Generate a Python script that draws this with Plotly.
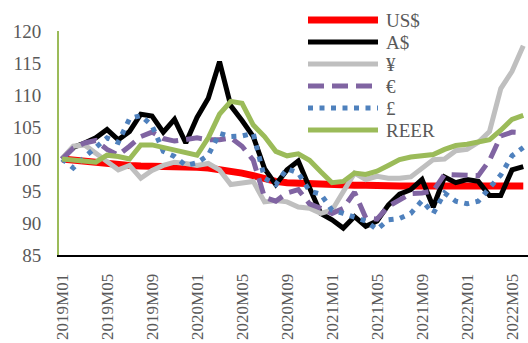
import plotly.graph_objects as go

months = [
    "2019M01", "2019M02", "2019M03", "2019M04", "2019M05", "2019M06", "2019M07", "2019M08",
    "2019M09", "2019M10", "2019M11", "2019M12",
    "2020M01", "2020M02", "2020M03", "2020M04", "2020M05", "2020M06", "2020M07", "2020M08",
    "2020M09", "2020M10", "2020M11", "2020M12",
    "2021M01", "2021M02", "2021M03", "2021M04", "2021M05", "2021M06", "2021M07", "2021M08",
    "2021M09", "2021M10", "2021M11", "2021M12",
    "2022M01", "2022M02", "2022M03", "2022M04", "2022M05", "2022M06",
]
tick_labels = ["2019M01", "2019M05", "2019M09", "2020M01", "2020M05", "2020M09",
               "2021M01", "2021M05", "2021M09", "2022M01", "2022M05"]

usd = [100, 99.8, 99.6, 99.4, 99.2, 99.1, 99.0, 98.9, 98.9, 98.9, 98.8, 98.8,
       98.7, 98.6, 98.4, 98.1, 97.8, 97.4, 96.9, 96.5, 96.3, 96.2, 96.1, 96.0,
       96.0, 96.0, 95.9, 95.9, 95.8, 95.8, 95.8, 95.8, 95.8, 95.8, 95.8, 95.8,
       95.8, 95.8, 95.8, 95.8, 95.8, 95.8]
aud = [100, 101.8, 102.5, 103.3, 104.6, 103.0, 104.3, 107.0, 106.7, 104.2, 106.2, 102.5,
       106.5, 109.5, 115.2, 108.3, 106.0, 103.5, 98.5, 96.0, 98.3, 99.7, 95.5, 91.5,
       90.5, 89.2, 91.0, 89.5, 90.3, 92.8, 94.5, 95.2, 96.8, 92.5, 97.2, 96.3,
       96.8, 96.5, 94.3, 94.3, 98.3, 98.8]
jpy = [100, 102.0, 102.2, 101.0, 99.6, 98.3, 99.0, 97.0, 98.2, 99.0, 99.5, 99.3,
       99.0, 99.3, 98.3, 96.0, 96.3, 96.5, 93.3, 93.5, 93.3, 92.5, 92.3, 91.5,
       92.0, 95.0, 97.8, 96.8, 97.3, 97.0, 97.0, 97.2, 98.6, 99.9, 100.0, 101.3,
       101.5, 102.6, 104.3, 111.0, 113.7, 117.7]
eur = [100, 101.7, 102.5, 102.9, 101.5, 100.6, 102.0, 103.5, 104.2, 103.2, 102.8, 103.0,
       103.3, 103.0, 103.0, 103.3, 102.0, 99.8, 94.0, 93.4, 94.7, 95.2, 93.0, 92.3,
       91.5, 92.3, 94.8, 90.8, 90.6, 92.6, 93.5, 94.6, 94.7, 95.0, 97.6, 97.5,
       97.5, 97.4, 99.8, 103.6, 104.2, 104.1]
gbp = [100, 98.6, 100.3, 101.8, 103.3, 102.6, 106.3, 106.8, 105.2, 101.2, 100.4, 99.0,
       99.4, 100.6, 104.0, 103.5, 103.6, 104.0, 97.0, 96.0, 98.5, 97.8, 95.0, 94.5,
       92.0, 91.5, 91.0, 90.3, 89.0, 90.5, 90.7, 91.5, 93.5, 91.5, 94.7, 93.4,
       93.0, 93.4, 95.5, 97.5, 100.5, 101.8]
reer = [100, 99.8, 99.7, 99.5, 100.6, 100.4, 100.0, 102.2, 102.2, 101.8, 101.5, 101.0,
        100.6, 103.3, 107.0, 109.0, 108.7, 105.3, 103.5, 101.2, 100.5, 100.8, 99.8, 98.0,
        96.3, 96.5, 97.8, 97.6, 98.1, 99.0, 99.9, 100.3, 100.5, 100.7, 101.5, 102.1,
        102.3, 102.6, 103.0, 104.5, 106.2, 106.8]

names = ["US$", "A$", "¥", "€", "£", "REER"]
values = [usd, aud, jpy, eur, gbp, reer]
colors = ["#FF0000", "#000000", "#BFBFBF", "#8064A2", "#4F81BD", "#9BBB59"]
widths = [7, 5, 5, 5, 5, 5]
dashes = ["solid", "solid", "solid", "16px,8px", "5px,6.5px", "solid"]

FONT = "Liberation Serif, Times New Roman, serif"
GREY = "#595959"

fig = go.Figure()
for n, v, c, w, d in zip(names, values, colors, widths, dashes):
    fig.add_trace(go.Scatter(x=months, y=v, mode="lines", name=n, showlegend=False,
                             line=dict(color=c, width=w, dash=d)))

# custom legend (samples + text), in paper coordinates
W, H, L, T = 528, 343, 59, 31
B = 255
pw, ph = W - L, B - T
def px(x):
    return (x - L) / pw
def py(y):
    return (B - y) / ph

rows = [20, 42, 64, 86, 108, 130]
for n, c, w, d, ry in zip(names, colors, widths, dashes, rows):
    fig.add_shape(type="line", xref="paper", yref="paper",
                  x0=px(308), x1=px(378), y0=py(ry), y1=py(ry),
                  line=dict(color=c, width=w, dash=d))
    fig.add_annotation(xref="paper", yref="paper", x=px(384), y=py(ry),
                       text=n, showarrow=False, xanchor="left", yanchor="middle",
                       font=dict(family=FONT, size=19, color=GREY))

fig.update_layout(
    width=W, height=H,
    margin=dict(l=L, r=0, t=T, b=H - B, autoexpand=False),
    paper_bgcolor="white", plot_bgcolor="white",
    font=dict(family=FONT, size=19, color=GREY),
)
fig.update_xaxes(type="category", range=[-0.27, 41.42], automargin=False,
                 tickmode="array", tickvals=tick_labels, ticktext=tick_labels,
                 tickangle=-90, showgrid=False, zeroline=False,
                 showline=True, linecolor="black", linewidth=2,
                 ticks="", ticklabelstandoff=10,
                 tickfont=dict(family=FONT, size=17, color=GREY))
fig.update_yaxes(range=[85, 120], tickmode="array", automargin=False,
                 tickvals=[85, 90, 95, 100, 105, 110, 115, 120],
                 showgrid=False, zeroline=False,
                 showline=True, linecolor="#9BBB59", linewidth=2,
                 ticks="", ticklabelstandoff=12,
                 tickfont=dict(family=FONT, size=19, color=GREY))

fig.write_html("out.html", config={"displayModeBar": False},
               post_script="document.body.style.margin='0px';document.body.style.overflow='hidden';")
